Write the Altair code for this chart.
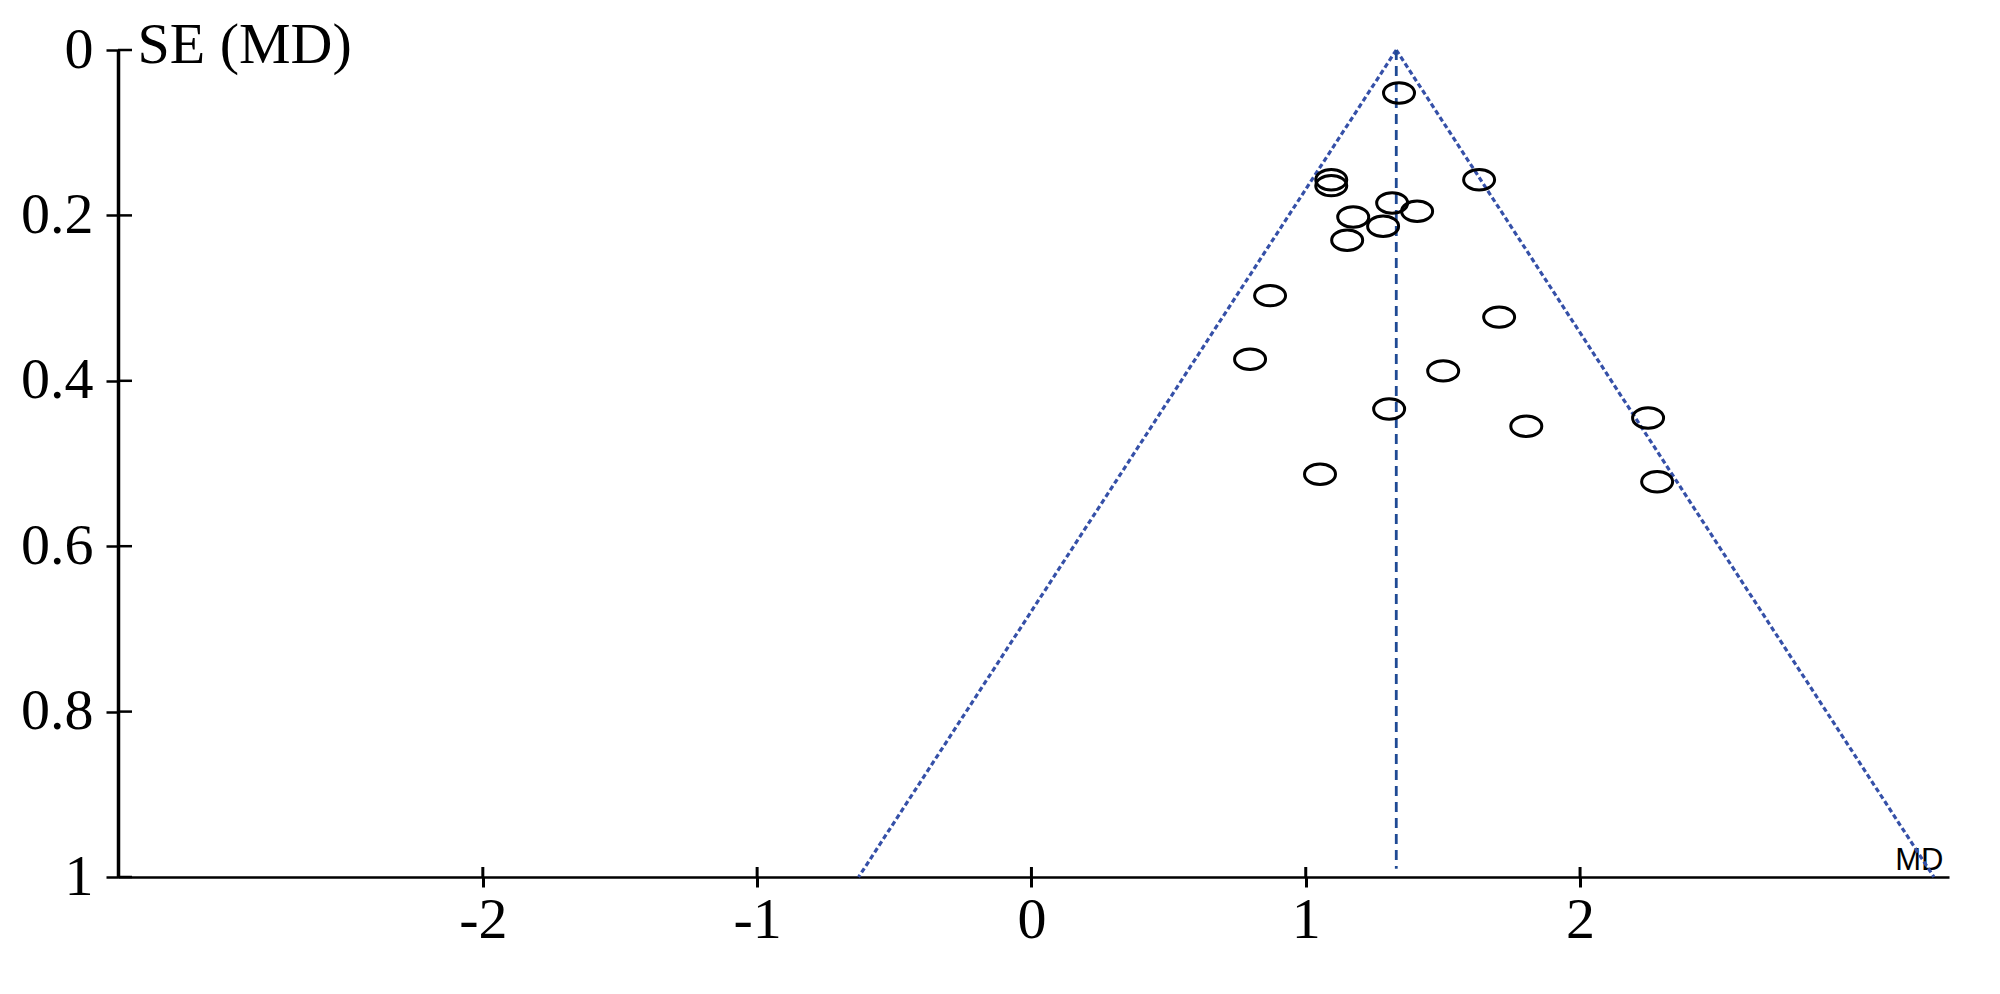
import altair as alt
import pandas as pd

# Study points (MD, SE)
md_values = [1.340, 1.093, 1.093, 1.632, 1.315, 1.406, 1.173, 1.282, 1.151,
             0.870, 1.705, 0.797, 1.501, 1.304, 1.804, 2.248, 1.052, 2.281]
se_values = [0.052, 0.157, 0.164, 0.157, 0.185, 0.195, 0.202, 0.213, 0.230,
             0.297, 0.323, 0.374, 0.388, 0.434, 0.455, 0.445, 0.513, 0.522]

# Pooled estimate and funnel (95% limits) end points
pooled_md = 1.33
funnel_side = ["left", "left", "right", "right"]
funnel_md = [1.33, -0.63, 1.33, 3.29]
funnel_se = [0.0, 1.0, 0.0, 1.0]

x_ticks = [-2, -1, 0, 1, 2]
y_ticks = [0, 0.2, 0.4, 0.6, 0.8, 1]

W, H = 1831, 827

points = pd.DataFrame({"md": md_values, "se": se_values})
funnel = pd.DataFrame({"md": funnel_md, "se": funnel_se, "side": funnel_side})
center = pd.DataFrame({"md": [pooled_md], "se": [0.0], "se2": [0.99]})
yt = pd.DataFrame({"se": y_ticks})
xt = pd.DataFrame({"md": x_ticks})

serif = "Liberation Serif"

xscale = alt.Scale(domain=[-3.33, 3.345], nice=False, zero=False)
yscale = alt.Scale(domain=[0, 1], reverse=True, nice=False, zero=False)

xaxis = alt.Axis(
    values=x_ticks, grid=False, title="MD",
    labelExpr="datum.value < 0 ? '-' + (-datum.value) : '' + datum.value",
    labelFont=serif, labelFontSize=58, labelColor="black", labelPadding=4,
    tickSize=10, tickWidth=3, tickColor="black",
    domainColor="black", domainWidth=2.5,
    titleFont="Liberation Sans", titleFontSize=31, titleFontWeight="normal",
    titleColor="black", titleAnchor="start", titleAlign="right",
    titleBaseline="alphabetic", titleX=1825, titleY=-8,
)
yaxis = alt.Axis(
    values=y_ticks, grid=False, title="SE (MD)",
    labelExpr="'' + datum.value",
    labelFont=serif, labelFontSize=58, labelColor="black", labelPadding=13,
    tickSize=12, tickWidth=2.5, tickColor="black",
    domainColor="black", domainWidth=3.5,
    titleFont=serif, titleFontSize=58, titleFontWeight="normal",
    titleColor="black", titleAngle=0, titleAlign="left",
    titleBaseline="alphabetic", titleX=19, titleY=12,
)

X = alt.X("md:Q", scale=xscale, axis=xaxis)
Y = alt.Y("se:Q", scale=yscale, axis=yaxis)

funnel_layer = alt.Chart(funnel).mark_line(
    color="#3550A8", strokeWidth=3.2, strokeDash=[5, 3]
).encode(x=X, y=Y, detail="side:N", order="se:Q")

center_layer = alt.Chart(center).mark_rule(
    color="#1F4A94", strokeWidth=2.8, strokeDash=[10, 6]
).encode(x=X, y=Y, y2="se2:Q")

ellipse = ("M -1 0 C -1 -0.364 -0.5523 -0.66 0 -0.66 "
           "C 0.5523 -0.66 1 -0.364 1 0 "
           "C 1 0.364 0.5523 0.66 0 0.66 "
           "C -0.5523 0.66 -1 0.364 -1 0 Z")

point_layer = alt.Chart(points).mark_point(
    shape=ellipse, size=960, filled=False, stroke="black", strokeWidth=3, opacity=1
).encode(x=X, y=Y)

ytick_in = alt.Chart(yt).mark_rule(color="black", strokeWidth=2.5).encode(
    y=Y, x=alt.value(0), x2=alt.value(14)
)
xtick_in = alt.Chart(xt).mark_rule(color="black", strokeWidth=3).encode(
    x=X, y=alt.value(H), y2=alt.value(H - 10)
)

chart = alt.layer(
    funnel_layer, center_layer, point_layer, ytick_in, xtick_in
).properties(
    width=W, height=H,
    autosize=alt.AutoSizeParams(type="none"),
    padding={"left": 110, "top": 42, "right": 30, "bottom": 80},
    background="white",
).configure_view(stroke=None)

chart.save("out.html", embed_options={"renderer": "svg", "actions": False})
